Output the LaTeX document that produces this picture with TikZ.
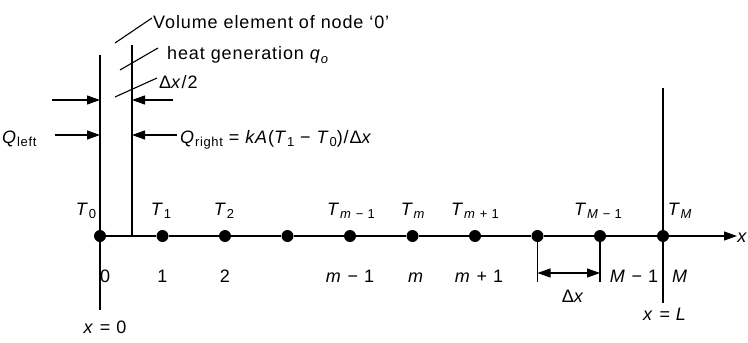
\documentclass[tikz,border=0pt]{standalone}
\usepackage{fontspec}
\setmainfont{Liberation Sans}[LetterSpace=5]
\usetikzlibrary{arrows.meta}
\newcommand{\lowsub}[1]{\raisebox{-0.4ex}{\fontsize{13}{13}\selectfont #1}}
\begin{document}
\begin{tikzpicture}[x=1pt,y=-1pt,
  every node/.style={font=\fontsize{18}{20}\selectfont, inner sep=0pt},
  dotnode/.style={circle,fill=black,inner sep=0pt,minimum size=12pt},
  ln/.style={line width=1.1pt},
  tip/.style={-{Triangle[length=13pt,width=9pt]}},
  dtip/.style={{Triangle[length=13pt,width=9pt]}-{Triangle[length=13pt,width=9pt]}},
  lbl/.style={anchor=base}
]
\useasboundingbox (0,0) rectangle (748,343);

% walls
\coordinate (wLt) at (100,55);  \coordinate (wLb) at (100,310);
\coordinate (wRt) at (132,45);  \coordinate (wRb) at (132,236);
\coordinate (wMt) at (663,88);  \coordinate (wMb) at (663,303);
\draw[ln] (wLt) -- (wLb);
\draw[ln] (wRt) -- (wRb);
\draw[ln] (wMt) -- (wMb);

% grid nodes
\foreach \i/\x in {0/100,1/162.5,2/225,3/287.5,4/350,5/412.5,6/475,7/537.5,8/600,9/663}
  \node[dotnode] (n\i) at (\x,236) {};
\coordinate (xend) at (737,236);
\draw[ln,tip] (n0) -- (n1) -- (n2) -- (n3) -- (n4) -- (n5) -- (n6) -- (n7) -- (n8) -- (n9) -- (xend);
\node[anchor=east] (xlab) at (748,238) {\textit{x}};

% leaders
\node[anchor=west] (vol) at (153,22) {Volume element of node ‘0’};
\node[anchor=west] (heat) at (167,55) {heat generation \textit{q}\lowsub{\textit{o}}};
\node[anchor=west] (half) at (159,82) {Δ\textit{x}/2};
\coordinate (l1a) at (115,43); \coordinate (l1b) at (152,18);
\coordinate (l2a) at (120,70); \coordinate (l2b) at (158,48);
\coordinate (l3a) at (115,97); \coordinate (l3b) at (157,78);
\draw[ln] (l1a) -- (l1b);
\draw[ln] (l2a) -- (l2b);
\draw[ln] (l3a) -- (l3b);

% heat flow arrows
\coordinate (a1s) at (52,100);  \coordinate (a1e) at (100,100);
\coordinate (a2s) at (173,100); \coordinate (a2e) at (132,100);
\coordinate (a3s) at (55,135);  \coordinate (a3e) at (100,135);
\coordinate (a4s) at (177,135); \coordinate (a4e) at (132,135);
\draw[ln,tip] (a1s) -- (a1e);
\draw[ln,tip] (a2s) -- (a2e);
\draw[ln,tip] (a3s) -- (a3e);
\draw[ln,tip] (a4s) -- (a4e);
\node[anchor=base west] (ql) at (2,143) {\textit{Q}\lowsub{left}};
\node[anchor=base west] (qr) at (180,143) {\textit{Q}\lowsub{right} = \textit{kA}(\textit{T}\lowsub{1} − \textit{T}\lowsub{0})/Δ\textit{x}};

% temperature labels
\node[lbl] (t0) at (86,215) {\textit{T}\lowsub{0}};
\node[lbl] (t1) at (161,215) {\textit{T}\lowsub{1}};
\node[lbl] (t2) at (224,215) {\textit{T}\lowsub{2}};
\node[lbl] (t4) at (351,215) {\textit{T}\lowsub{\textit{m} − 1}};
\node[lbl] (t5) at (413,215) {\textit{T}\lowsub{\textit{m}}};
\node[lbl] (t6) at (475,215) {\textit{T}\lowsub{\textit{m} + 1}};
\node[lbl] (t8) at (598,215) {\textit{T}\lowsub{\textit{M} − 1}};
\node[lbl] (t9) at (680,215) {\textit{T}\lowsub{\textit{M}}};

% index labels
\node[anchor=base west] (i0) at (100,282) {0};
\node[lbl] (i1) at (162.5,282) {1};
\node[lbl] (i2) at (225,282) {2};
\node[lbl] (i4) at (350,282) {\textit{m} − 1};
\node[lbl] (i5) at (416,282) {\textit{m}};
\node[lbl] (i6) at (479,282) {\textit{m} + 1};
\node[lbl] (i8) at (634,282) {\textit{M} − 1};
\node[lbl] (i9) at (680,282) {\textit{M}};
\node[lbl] (x0) at (105,333) {\textit{x} = 0};
\node[lbl] (xL) at (665,320) {\textit{x} = \textit{L}};

% delta x dimension
\coordinate (t7) at (537.5,282); \coordinate (t8b) at (600,282);
\draw[ln] (n7) -- (t7);
\draw[ln] (n8) -- (t8b);
\coordinate (d1) at (537.5,273); \coordinate (d2) at (600,273);
\draw[ln,dtip] (d1) -- (d2);
\node[lbl] (dx) at (573,302) {Δ\textit{x}};
\end{tikzpicture}
\end{document}
